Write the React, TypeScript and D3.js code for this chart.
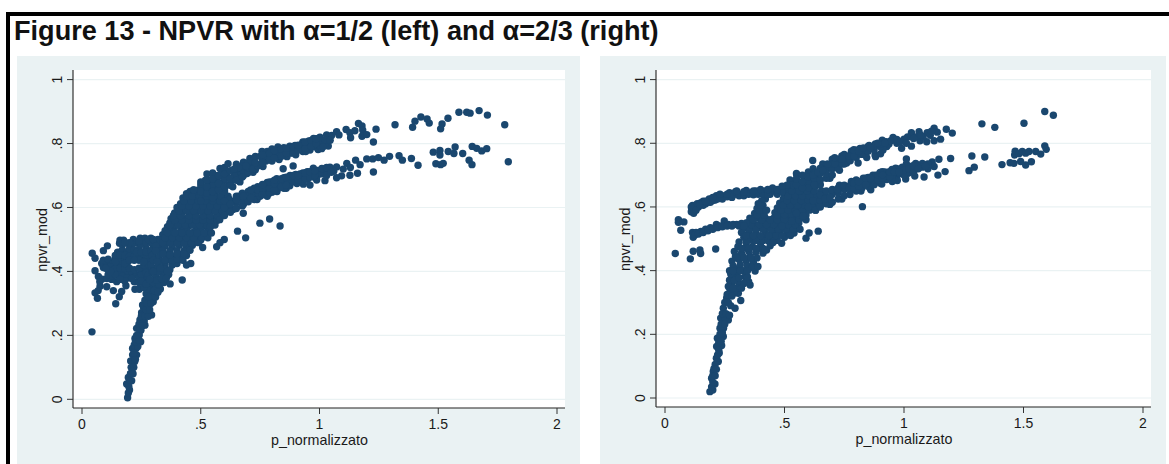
import * as d3 from "d3";

type Pt = [number, number];

const xTicks = [0, 0.5, 1, 1.5, 2];
const xTickLabels = ["0", ".5", "1", "1.5", "2"];
const yTicks = [0, 0.2, 0.4, 0.6, 0.8, 1];
const yTickLabels = ["0", ".2", ".4", ".6", ".8", "1"];
const titleText = "Figure 13 - NPVR with α=1/2 (left) and α=2/3 (right)";

// left chart, alpha = 1/2
const leftStreak: Pt[] = [
  [0.192, 0.005], [0.2, 0.029], [0.188, 0.048], [0.209, 0.058], [0.195, 0.068], [0.204, 0.08],
  [0.212, 0.097], [0.205, 0.12], [0.222, 0.118], [0.23, 0.139], [0.213, 0.139], [0.213, 0.159],
  [0.228, 0.16], [0.247, 0.18], [0.223, 0.19], [0.241, 0.201], [0.23, 0.222], [0.248, 0.216],
  [0.265, 0.232], [0.244, 0.248], [0.262, 0.245], [0.293, 0.264], [0.251, 0.271], [0.272, 0.268],
  [0.26, 0.285], [0.255, 0.295], [0.28, 0.29], [0.3, 0.305], [0.265, 0.31], [0.283, 0.312],
  [0.27, 0.33], [0.29, 0.332], [0.3, 0.322], [0.285, 0.35], [0.31, 0.35], [0.33, 0.345],
  [0.195, 0.02], [0.197, 0.04], [0.2, 0.06], [0.205, 0.08], [0.215, 0.08], [0.207, 0.1],
  [0.218, 0.1], [0.225, 0.125], [0.22, 0.145], [0.22, 0.17], [0.235, 0.165], [0.225, 0.18],
  [0.24, 0.185], [0.23, 0.2], [0.245, 0.22], [0.24, 0.235], [0.255, 0.23], [0.25, 0.26],
  [0.265, 0.26], [0.28, 0.26], [0.27, 0.28], [0.285, 0.28], [0.275, 0.3], [0.29, 0.3],
  [0.28, 0.32], [0.31, 0.32], [0.305, 0.34], [0.32, 0.335], [0.275, 0.345],
];

const leftCluster: Pt[] = [
  [0.142, 0.299], [0.065, 0.316], [0.055, 0.333], [0.157, 0.321], [0.132, 0.34], [0.167, 0.337],
  [0.185, 0.355], [0.146, 0.368], [0.104, 0.352], [0.076, 0.354], [0.068, 0.34], [0.223, 0.344],
  [0.241, 0.344], [0.055, 0.402], [0.069, 0.384], [0.043, 0.457], [0.055, 0.441], [0.107, 0.48],
  [0.09, 0.465], [0.083, 0.425], [0.16, 0.498], [0.175, 0.498], [0.158, 0.488], [0.216, 0.5],
  [0.245, 0.504], [0.265, 0.504], [0.29, 0.504], [0.32, 0.5], [0.19, 0.488], [0.23, 0.49],
  [0.15, 0.46], [0.17, 0.468], [0.19, 0.458], [0.21, 0.465], [0.24, 0.47], [0.27, 0.472],
  [0.3, 0.475], [0.33, 0.48], [0.1, 0.425], [0.12, 0.43], [0.14, 0.44], [0.16, 0.432],
  [0.18, 0.438], [0.255, 0.44], [0.28, 0.445], [0.11, 0.405], [0.13, 0.4], [0.15, 0.405],
  [0.17, 0.4], [0.19, 0.398], [0.21, 0.395], [0.23, 0.39], [0.25, 0.405], [0.27, 0.41],
  [0.085, 0.376], [0.105, 0.378], [0.125, 0.375], [0.2, 0.38], [0.22, 0.368], [0.26, 0.38],
  [0.17, 0.485], [0.21, 0.485], [0.25, 0.485], [0.27, 0.49], [0.29, 0.49], [0.31, 0.488],
  [0.2, 0.47], [0.22, 0.468], [0.28, 0.46], [0.14, 0.45], [0.16, 0.452], [0.18, 0.45],
  [0.2, 0.448], [0.22, 0.446], [0.24, 0.45], [0.26, 0.455], [0.3, 0.455], [0.09, 0.435],
  [0.11, 0.438], [0.13, 0.425], [0.15, 0.42], [0.17, 0.418], [0.19, 0.425], [0.27, 0.43],
  [0.29, 0.43], [0.09, 0.412], [0.11, 0.39], [0.13, 0.385], [0.15, 0.39], [0.17, 0.385],
  [0.19, 0.38], [0.21, 0.378], [0.24, 0.38], [0.28, 0.39], [0.25, 0.39], [0.27, 0.395],
  [0.075, 0.368], [0.18, 0.37],
  [0.12, 0.415], [0.14, 0.41], [0.16, 0.41], [0.18, 0.41], [0.2, 0.41], [0.22, 0.405],
  [0.24, 0.41], [0.26, 0.42], [0.28, 0.42], [0.3, 0.41], [0.14, 0.43], [0.18, 0.425],
  [0.2, 0.435], [0.24, 0.435], [0.26, 0.43], [0.22, 0.435], [0.31, 0.44], [0.23, 0.46],
  [0.25, 0.46], [0.27, 0.46], [0.29, 0.465], [0.31, 0.465], [0.33, 0.465], [0.2, 0.49],
  [0.24, 0.495], [0.28, 0.5], [0.3, 0.5], [0.18, 0.49], [0.14, 0.39], [0.12, 0.4],
  [0.1, 0.41], [0.16, 0.375], [0.24, 0.365], [0.26, 0.365], [0.28, 0.365], [0.26, 0.35],
  [0.25, 0.37],
];

const leftBlob: Pt[] = [
  [0.27, 0.36], [0.3, 0.365], [0.325, 0.36], [0.345, 0.365], [0.28, 0.39], [0.31, 0.385],
  [0.34, 0.392], [0.365, 0.39], [0.29, 0.42], [0.32, 0.415], [0.35, 0.422], [0.38, 0.42],
  [0.4, 0.425], [0.295, 0.45], [0.325, 0.445], [0.355, 0.452], [0.385, 0.448], [0.415, 0.452],
  [0.44, 0.45], [0.31, 0.48], [0.35, 0.48], [0.38, 0.476], [0.41, 0.482], [0.44, 0.478],
  [0.465, 0.482], [0.34, 0.515], [0.37, 0.51], [0.4, 0.508], [0.43, 0.513], [0.46, 0.508],
  [0.49, 0.512], [0.52, 0.515], [0.36, 0.54], [0.39, 0.54], [0.42, 0.535], [0.45, 0.542],
  [0.48, 0.538], [0.51, 0.542], [0.54, 0.54], [0.375, 0.565], [0.405, 0.57], [0.435, 0.565],
  [0.465, 0.572], [0.495, 0.566], [0.525, 0.57], [0.555, 0.565], [0.58, 0.57], [0.4, 0.6],
  [0.43, 0.595], [0.46, 0.6], [0.49, 0.595], [0.52, 0.602], [0.55, 0.598], [0.58, 0.602],
  [0.61, 0.6], [0.425, 0.63], [0.45, 0.628], [0.48, 0.632], [0.51, 0.628], [0.54, 0.632],
  [0.57, 0.628], [0.6, 0.632], [0.455, 0.65], [0.49, 0.655], [0.52, 0.66],
  [0.285, 0.375], [0.315, 0.372], [0.335, 0.378], [0.355, 0.378], [0.295, 0.4], [0.32, 0.4],
  [0.345, 0.408], [0.37, 0.405], [0.3, 0.435], [0.335, 0.432], [0.365, 0.436], [0.39, 0.435],
  [0.41, 0.438], [0.31, 0.465], [0.34, 0.465], [0.37, 0.465], [0.4, 0.465], [0.43, 0.465],
  [0.455, 0.466], [0.33, 0.498], [0.36, 0.495], [0.39, 0.494], [0.42, 0.497], [0.45, 0.494],
  [0.475, 0.497], [0.5, 0.498], [0.35, 0.527], [0.38, 0.525], [0.41, 0.522], [0.44, 0.527],
  [0.47, 0.523], [0.5, 0.527], [0.53, 0.528], [0.37, 0.552], [0.4, 0.553], [0.43, 0.55],
  [0.46, 0.555], [0.49, 0.552], [0.52, 0.555], [0.55, 0.552], [0.39, 0.583], [0.42, 0.582],
  [0.45, 0.585], [0.48, 0.582], [0.51, 0.585], [0.54, 0.582], [0.57, 0.585], [0.6, 0.585],
  [0.415, 0.612], [0.445, 0.612], [0.475, 0.615], [0.505, 0.612], [0.535, 0.615], [0.565, 0.612],
  [0.595, 0.615], [0.62, 0.615], [0.44, 0.643], [0.47, 0.643], [0.5, 0.643], [0.53, 0.645],
  [0.56, 0.645], [0.59, 0.645],
  [0.3, 0.4], [0.33, 0.41], [0.36, 0.4], [0.315, 0.43], [0.35, 0.435], [0.38, 0.435],
  [0.4, 0.44], [0.425, 0.435], [0.34, 0.455], [0.37, 0.452], [0.4, 0.455], [0.43, 0.455],
  [0.34, 0.49], [0.37, 0.49], [0.4, 0.49], [0.43, 0.49], [0.46, 0.49], [0.49, 0.49],
  [0.35, 0.505], [0.38, 0.505], [0.41, 0.505], [0.44, 0.505], [0.47, 0.505], [0.505, 0.505],
  [0.53, 0.505], [0.36, 0.52], [0.39, 0.52], [0.42, 0.52], [0.455, 0.52], [0.485, 0.52],
  [0.515, 0.52], [0.545, 0.52], [0.37, 0.545], [0.405, 0.545], [0.435, 0.545], [0.465, 0.545],
  [0.495, 0.545], [0.525, 0.545], [0.56, 0.545], [0.39, 0.56], [0.42, 0.56], [0.45, 0.56],
  [0.48, 0.56], [0.51, 0.56], [0.54, 0.56], [0.57, 0.56], [0.385, 0.575], [0.415, 0.575],
  [0.45, 0.575], [0.48, 0.575], [0.51, 0.575], [0.54, 0.575], [0.57, 0.575], [0.595, 0.575],
  [0.41, 0.59], [0.44, 0.59], [0.47, 0.59], [0.5, 0.59], [0.53, 0.59], [0.56, 0.59],
  [0.59, 0.59], [0.62, 0.59], [0.42, 0.605], [0.45, 0.605], [0.48, 0.605], [0.51, 0.605],
  [0.54, 0.605], [0.57, 0.605], [0.6, 0.605], [0.43, 0.62], [0.46, 0.62], [0.49, 0.62],
  [0.52, 0.62], [0.55, 0.62], [0.58, 0.62], [0.61, 0.62], [0.64, 0.62], [0.44, 0.635],
  [0.465, 0.635], [0.495, 0.635], [0.525, 0.635], [0.555, 0.635], [0.585, 0.635], [0.615, 0.635],
  [0.47, 0.655], [0.5, 0.655], [0.54, 0.655], [0.57, 0.655], [0.6, 0.655], [0.5, 0.67],
  [0.53, 0.67], [0.56, 0.67], [0.59, 0.67], [0.62, 0.67], [0.52, 0.685], [0.54, 0.685],
  [0.57, 0.685], [0.6, 0.685], [0.63, 0.685], [0.66, 0.685], [0.56, 0.7], [0.59, 0.7],
  [0.61, 0.7], [0.65, 0.7], [0.68, 0.7], [0.6, 0.71], [0.64, 0.71], [0.67, 0.71],
  [0.7, 0.71], [0.72, 0.71],
];

const leftUpperBand: Pt[] = [
  [0.47, 0.655], [0.5, 0.68], [0.526, 0.705], [0.55, 0.708], [0.581, 0.722], [0.6, 0.725],
  [0.615, 0.737], [0.65, 0.735], [0.68, 0.742], [0.707, 0.753], [0.73, 0.76], [0.758, 0.775],
  [0.78, 0.775], [0.8, 0.783], [0.825, 0.789], [0.85, 0.787], [0.875, 0.792], [0.897, 0.794],
  [0.93, 0.805], [0.955, 0.808], [0.975, 0.816], [0.994, 0.816], [0.5, 0.62], [0.55, 0.63],
  [0.6, 0.65], [0.635, 0.665], [0.665, 0.68], [0.695, 0.706], [0.73, 0.718], [0.762, 0.728],
  [0.8, 0.745], [0.83, 0.75], [0.863, 0.759], [0.9, 0.765], [0.93, 0.775], [0.96, 0.78],
  [0.994, 0.781], [0.5, 0.65], [0.55, 0.67], [0.6, 0.69], [0.64, 0.7], [0.68, 0.715],
  [0.72, 0.735], [0.76, 0.75], [0.8, 0.765], [0.84, 0.77], [0.88, 0.778], [0.92, 0.79],
  [0.96, 0.795], [1.0, 0.8], [0.918, 0.79], [0.942, 0.775], [0.981, 0.79],
  [1.009, 0.784], [1.037, 0.792], [1.002, 0.82], [1.03, 0.827], [1.051, 0.825], [1.072, 0.837],
  [1.082, 0.827], [1.112, 0.844], [1.128, 0.834], [1.131, 0.818], [1.149, 0.84], [1.164, 0.863],
  [1.179, 0.855], [1.182, 0.842], [1.179, 0.823], [1.199, 0.828], [1.227, 0.805], [1.238, 0.845],
  [1.318, 0.859], [1.392, 0.851], [1.402, 0.87], [1.427, 0.883], [1.453, 0.877], [1.462, 0.864],
  [1.51, 0.846], [1.516, 0.861], [1.541, 0.879], [1.587, 0.898], [1.62, 0.898], [1.634, 0.895],
  [1.672, 0.903], [1.707, 0.889], [1.78, 0.859],
  [0.525, 0.645], [0.525, 0.665], [0.525, 0.685], [0.55, 0.65], [0.55, 0.69], [0.575, 0.655],
  [0.575, 0.675], [0.575, 0.7], [0.6, 0.665], [0.6, 0.705], [0.625, 0.67], [0.625, 0.69],
  [0.625, 0.715], [0.65, 0.685], [0.65, 0.72], [0.675, 0.695], [0.675, 0.73], [0.7, 0.71],
  [0.7, 0.725], [0.7, 0.74], [0.725, 0.725], [0.725, 0.75], [0.75, 0.735], [0.75, 0.76],
  [0.775, 0.745], [0.775, 0.76], [0.8, 0.755], [0.8, 0.772], [0.825, 0.76], [0.825, 0.775],
  [0.85, 0.765], [0.85, 0.777], [0.875, 0.77], [0.875, 0.785], [0.9, 0.775], [0.9, 0.785],
  [0.925, 0.785], [0.925, 0.797], [0.95, 0.79], [0.95, 0.8], [0.975, 0.795], [0.975, 0.805],
  [1.0, 0.795], [1.0, 0.81], [1.025, 0.8], [1.025, 0.812], [1.015, 0.79], [1.045, 0.81],
  [0.72, 0.72], [0.74, 0.73], [0.76, 0.74], [0.76, 0.765], [0.79, 0.75], [0.79, 0.77],
  [0.81, 0.755], [0.81, 0.778], [0.84, 0.76], [0.84, 0.782], [0.86, 0.77], [0.86, 0.785],
  [0.89, 0.77], [0.89, 0.79], [0.91, 0.78], [0.91, 0.795], [0.94, 0.785], [0.94, 0.805],
  [0.965, 0.79], [0.965, 0.81], [0.985, 0.8], [0.985, 0.815], [0.71, 0.745], [0.69, 0.73],
  [0.66, 0.725], [0.64, 0.72], [0.73, 0.74],
];

const leftLowerBand: Pt[] = [
  [0.74, 0.665], [0.78, 0.678], [0.82, 0.69], [0.876, 0.7], [0.93, 0.708], [0.99, 0.716],
  [0.7, 0.65], [0.66, 0.635], [0.62, 0.625], [0.54, 0.54], [0.58, 0.562], [0.636, 0.594],
  [0.68, 0.61], [0.737, 0.625], [0.78, 0.635], [0.821, 0.65], [0.86, 0.66], [0.905, 0.675],
  [0.95, 0.688], [0.994, 0.703], [0.6, 0.6], [0.65, 0.615], [0.7, 0.635], [0.75, 0.65],
  [0.8, 0.665], [0.85, 0.68], [0.9, 0.69], [0.95, 0.7], [0.918, 0.705], [0.946, 0.71],
  [0.974, 0.723], [1.016, 0.72], [1.044, 0.726], [1.072, 0.727], [1.115, 0.738], [1.152, 0.748],
  [1.171, 0.734], [1.199, 0.752], [1.224, 0.752], [1.248, 0.756], [1.272, 0.748], [1.295, 0.76],
  [1.335, 0.762], [1.349, 0.748], [1.387, 0.753], [1.415, 0.732], [1.479, 0.773], [1.507, 0.778],
  [1.507, 0.764], [1.49, 0.737], [1.51, 0.734], [1.521, 0.738], [1.542, 0.775], [1.566, 0.769],
  [1.571, 0.789], [1.603, 0.769], [1.63, 0.748], [1.642, 0.734], [1.643, 0.791], [1.662, 0.785],
  [1.683, 0.777], [1.704, 0.784], [1.795, 0.743], [0.932, 0.673], [0.96, 0.67], [0.988, 0.686],
  [1.023, 0.684], [1.072, 0.693], [1.093, 0.699], [1.128, 0.701], [1.16, 0.707], [1.227, 0.711],
  [0.6, 0.575], [0.6, 0.62], [0.625, 0.585], [0.625, 0.61], [0.65, 0.597], [0.65, 0.635],
  [0.675, 0.605], [0.675, 0.625], [0.675, 0.645], [0.7, 0.618], [0.725, 0.625], [0.725, 0.645],
  [0.725, 0.66], [0.75, 0.635], [0.775, 0.65], [0.775, 0.665], [0.8, 0.648], [0.8, 0.68],
  [0.825, 0.66], [0.825, 0.675], [0.85, 0.66], [0.85, 0.693], [0.875, 0.668], [0.875, 0.685],
  [0.9, 0.703], [0.925, 0.682], [0.925, 0.695], [0.95, 0.712], [0.975, 0.695], [0.975, 0.708],
  [1.0, 0.712], [1.025, 0.71], [1.06, 0.713], [1.1, 0.72], [1.13, 0.725],
  [0.65, 0.625], [0.68, 0.635], [0.71, 0.63], [0.71, 0.655], [0.74, 0.645], [0.74, 0.655],
  [0.76, 0.64], [0.76, 0.66], [0.76, 0.672], [0.79, 0.645], [0.79, 0.66], [0.79, 0.68],
  [0.81, 0.655], [0.81, 0.675], [0.81, 0.685], [0.84, 0.665], [0.84, 0.69], [0.86, 0.67],
  [0.86, 0.695], [0.89, 0.68], [0.89, 0.7], [0.91, 0.685], [0.91, 0.7], [0.94, 0.69],
  [0.94, 0.708], [0.96, 0.695], [0.96, 0.712], [0.98, 0.7], [0.98, 0.715], [1.01, 0.705],
  [1.01, 0.722], [1.03, 0.7], [1.03, 0.725], [1.05, 0.71],
];

const leftOutliers: Pt[] = [
  [0.042, 0.211], [0.749, 0.551], [0.79, 0.564], [0.834, 0.542], [0.655, 0.526], [0.689, 0.505],
  [0.599, 0.5], [0.581, 0.49], [0.567, 0.477], [0.508, 0.475], [0.422, 0.373], [0.371, 0.361],
  [0.458, 0.425], [0.44, 0.42], [0.679, 0.582], [0.847, 0.721], [0.889, 0.73],
];

// right chart, alpha = 2/3
const rightStreak: Pt[] = [
  [0.188, 0.02], [0.2, 0.025], [0.209, 0.044], [0.195, 0.062], [0.202, 0.083], [0.21, 0.105],
  [0.223, 0.115], [0.227, 0.141], [0.216, 0.162], [0.237, 0.165], [0.219, 0.188], [0.244, 0.193],
  [0.23, 0.219], [0.245, 0.219], [0.233, 0.251], [0.265, 0.245], [0.25, 0.25], [0.244, 0.282],
  [0.293, 0.282], [0.275, 0.29], [0.258, 0.314], [0.317, 0.306], [0.307, 0.329], [0.272, 0.34],
  [0.29, 0.33], [0.356, 0.355], [0.28, 0.36], [0.31, 0.36], [0.3, 0.387], [0.335, 0.381],
  [0.278, 0.385], [0.377, 0.399], [0.35, 0.365],
  [0.195, 0.035], [0.2, 0.05], [0.2, 0.07], [0.21, 0.07], [0.205, 0.092], [0.215, 0.09],
  [0.215, 0.125], [0.22, 0.135], [0.225, 0.15], [0.225, 0.175], [0.235, 0.178], [0.23, 0.2],
  [0.24, 0.205], [0.235, 0.232], [0.25, 0.232], [0.24, 0.265], [0.255, 0.265], [0.27, 0.26],
  [0.25, 0.3], [0.265, 0.3], [0.26, 0.325], [0.28, 0.32], [0.3, 0.345], [0.265, 0.35],
  [0.285, 0.345], [0.32, 0.345], [0.33, 0.36], [0.27, 0.37], [0.29, 0.37], [0.31, 0.378],
  [0.345, 0.38], [0.275, 0.39],
];

const rightBlob: Pt[] = [
  [0.27, 0.4], [0.3, 0.405], [0.33, 0.4], [0.28, 0.43], [0.31, 0.435], [0.34, 0.43],
  [0.37, 0.425], [0.29, 0.46], [0.32, 0.455], [0.35, 0.462], [0.38, 0.458], [0.41, 0.455],
  [0.31, 0.49], [0.34, 0.488], [0.37, 0.492], [0.4, 0.485], [0.44, 0.478], [0.488, 0.486],
  [0.32, 0.52], [0.35, 0.518], [0.38, 0.522], [0.42, 0.515], [0.45, 0.52], [0.48, 0.516],
  [0.51, 0.522], [0.54, 0.518], [0.345, 0.55], [0.37, 0.548], [0.41, 0.552], [0.44, 0.548],
  [0.47, 0.552], [0.5, 0.548], [0.53, 0.552], [0.56, 0.55], [0.375, 0.58], [0.4, 0.578],
  [0.46, 0.582], [0.49, 0.578], [0.52, 0.582], [0.55, 0.578], [0.58, 0.582], [0.39, 0.61],
  [0.41, 0.605], [0.48, 0.612], [0.51, 0.608], [0.54, 0.612], [0.57, 0.608], [0.6, 0.612],
  [0.63, 0.608], [0.5, 0.64], [0.53, 0.638], [0.56, 0.642], [0.59, 0.638], [0.62, 0.642],
  [0.65, 0.638], [0.42, 0.625],
  [0.285, 0.415], [0.315, 0.418], [0.345, 0.415], [0.365, 0.41], [0.295, 0.445], [0.325, 0.445],
  [0.355, 0.445], [0.385, 0.44], [0.305, 0.475], [0.335, 0.472], [0.365, 0.475], [0.395, 0.47],
  [0.425, 0.465], [0.47, 0.495], [0.33, 0.505], [0.36, 0.505], [0.39, 0.505], [0.42, 0.5],
  [0.45, 0.503], [0.5, 0.505], [0.335, 0.535], [0.365, 0.535], [0.395, 0.535], [0.43, 0.533],
  [0.46, 0.536], [0.49, 0.533], [0.52, 0.536], [0.55, 0.533], [0.355, 0.565], [0.39, 0.565],
  [0.42, 0.565], [0.455, 0.565], [0.485, 0.565], [0.515, 0.566], [0.545, 0.565], [0.575, 0.566],
  [0.385, 0.595], [0.41, 0.59], [0.47, 0.597], [0.5, 0.594], [0.53, 0.597], [0.56, 0.594],
  [0.59, 0.597], [0.62, 0.594], [0.405, 0.62], [0.495, 0.625], [0.525, 0.625], [0.555, 0.627],
  [0.585, 0.625], [0.615, 0.627], [0.645, 0.625], [0.52, 0.652], [0.55, 0.655], [0.58, 0.652],
  [0.61, 0.652],
  [0.285, 0.4], [0.315, 0.4], [0.345, 0.4], [0.3, 0.44], [0.33, 0.44], [0.36, 0.44],
  [0.32, 0.47], [0.35, 0.47], [0.38, 0.47], [0.41, 0.47], [0.345, 0.495], [0.38, 0.495],
  [0.41, 0.495], [0.43, 0.495], [0.34, 0.51], [0.37, 0.51], [0.4, 0.51], [0.435, 0.51],
  [0.465, 0.51], [0.49, 0.51], [0.525, 0.51], [0.35, 0.53], [0.38, 0.53], [0.41, 0.53],
  [0.445, 0.53], [0.475, 0.53], [0.505, 0.53], [0.535, 0.53], [0.565, 0.53], [0.36, 0.545],
  [0.395, 0.545], [0.425, 0.545], [0.455, 0.545], [0.485, 0.545], [0.515, 0.545], [0.545, 0.545],
  [0.37, 0.56], [0.405, 0.56], [0.44, 0.56], [0.47, 0.56], [0.5, 0.56], [0.53, 0.56],
  [0.56, 0.56], [0.59, 0.56], [0.385, 0.575], [0.415, 0.575], [0.47, 0.575], [0.5, 0.575],
  [0.53, 0.575], [0.56, 0.575], [0.59, 0.575], [0.395, 0.59], [0.425, 0.59], [0.485, 0.59],
  [0.515, 0.59], [0.545, 0.59], [0.575, 0.59], [0.605, 0.59], [0.63, 0.59], [0.4, 0.605],
  [0.495, 0.605], [0.525, 0.605], [0.555, 0.605], [0.585, 0.605], [0.615, 0.605], [0.645, 0.605],
  [0.51, 0.62], [0.54, 0.62], [0.57, 0.62], [0.6, 0.62], [0.63, 0.62], [0.66, 0.62],
  [0.515, 0.635], [0.545, 0.635], [0.575, 0.635], [0.605, 0.635], [0.635, 0.635], [0.665, 0.635],
  [0.53, 0.65], [0.565, 0.65], [0.595, 0.65], [0.625, 0.65], [0.655, 0.65], [0.54, 0.665],
  [0.57, 0.665], [0.6, 0.665], [0.63, 0.665], [0.55, 0.68], [0.58, 0.68], [0.61, 0.68],
  [0.64, 0.68],
];

const rightFlatBands: Pt[] = [
  [0.11, 0.585], [0.115, 0.605], [0.125, 0.595], [0.14, 0.6], [0.15, 0.613], [0.17, 0.61],
  [0.185, 0.625], [0.2, 0.62], [0.215, 0.635], [0.23, 0.63], [0.25, 0.635], [0.27, 0.645],
  [0.285, 0.64], [0.3, 0.64], [0.32, 0.64], [0.34, 0.652], [0.36, 0.645], [0.38, 0.65],
  [0.4, 0.65], [0.42, 0.65], [0.44, 0.652], [0.46, 0.65], [0.48, 0.655], [0.5, 0.66],
  [0.523, 0.685], [0.535, 0.67], [0.551, 0.7], [0.44, 0.64], [0.47, 0.64], [0.118, 0.505],
  [0.115, 0.52], [0.13, 0.52], [0.15, 0.523], [0.17, 0.53], [0.19, 0.535], [0.215, 0.545],
  [0.23, 0.54], [0.248, 0.556], [0.265, 0.545], [0.285, 0.545], [0.3, 0.545], [0.32, 0.548],
  [0.34, 0.55],
  [0.112, 0.595], [0.125, 0.605], [0.135, 0.61], [0.16, 0.605], [0.16, 0.618], [0.18, 0.615],
  [0.19, 0.615], [0.21, 0.622], [0.22, 0.625], [0.24, 0.625], [0.26, 0.632], [0.28, 0.63],
  [0.295, 0.648], [0.31, 0.635], [0.33, 0.635], [0.35, 0.64], [0.37, 0.638], [0.39, 0.64],
  [0.41, 0.64], [0.43, 0.64], [0.45, 0.66], [0.49, 0.648], [0.51, 0.668], [0.125, 0.512],
  [0.14, 0.515], [0.16, 0.52], [0.18, 0.525], [0.2, 0.53], [0.22, 0.535], [0.24, 0.538],
  [0.26, 0.54], [0.28, 0.54], [0.31, 0.54], [0.33, 0.54],
  [0.11, 0.6], [0.12, 0.58], [0.13, 0.59], [0.145, 0.608], [0.17, 0.618], [0.2, 0.63],
  [0.23, 0.64], [0.26, 0.64], [0.3, 0.65], [0.33, 0.648], [0.37, 0.65], [0.4, 0.655],
  [0.43, 0.655], [0.47, 0.655], [0.49, 0.665],
];

const rightUpperBand: Pt[] = [
  [0.55, 0.705], [0.6, 0.71], [0.62, 0.72], [0.66, 0.735], [0.7, 0.75], [0.74, 0.76],
  [0.78, 0.775], [0.816, 0.784], [0.85, 0.79], [0.88, 0.798], [0.913, 0.805], [0.6, 0.68],
  [0.64, 0.695], [0.68, 0.72], [0.72, 0.735], [0.76, 0.75], [0.8, 0.765], [0.84, 0.772],
  [0.56, 0.65], [0.6, 0.66], [0.65, 0.67], [0.69, 0.69], [0.73, 0.715], [0.76, 0.738],
  [0.816, 0.766], [0.844, 0.755], [0.879, 0.763], [0.808, 0.738], [0.928, 0.79], [0.881, 0.795],
  [0.854, 0.793], [0.881, 0.758], [0.902, 0.767], [0.909, 0.81], [0.912, 0.779], [0.937, 0.798],
  [0.954, 0.818], [0.99, 0.784], [1.0, 0.813], [1.031, 0.833], [1.031, 0.791], [1.063, 0.836],
  [1.067, 0.808], [1.095, 0.805], [1.097, 0.833], [1.126, 0.808], [1.126, 0.847], [1.139, 0.835],
  [1.153, 0.813], [1.177, 0.844], [1.202, 0.832], [1.326, 0.861], [1.38, 0.85], [1.502, 0.863],
  [1.589, 0.9], [1.625, 0.888], [0.618, 0.746], [0.97, 0.8], [1.015, 0.82], [1.05, 0.82],
  [1.08, 0.82], [1.11, 0.825],
  [0.55, 0.67], [0.55, 0.688], [0.575, 0.66], [0.575, 0.68], [0.575, 0.7], [0.6, 0.695],
  [0.625, 0.67], [0.625, 0.69], [0.625, 0.706], [0.65, 0.685], [0.65, 0.705], [0.65, 0.722],
  [0.675, 0.69], [0.675, 0.705], [0.7, 0.7], [0.7, 0.72], [0.7, 0.735], [0.725, 0.72],
  [0.725, 0.75], [0.75, 0.735], [0.75, 0.765], [0.775, 0.745], [0.775, 0.762], [0.8, 0.755],
  [0.8, 0.778], [0.825, 0.765], [0.825, 0.778], [0.85, 0.775], [0.875, 0.78], [0.875, 0.79],
  [0.9, 0.79], [0.9, 0.798], [0.925, 0.805], [0.945, 0.808], [0.97, 0.812], [0.985, 0.805],
  [1.01, 0.8], [1.04, 0.815], [1.07, 0.825], [1.115, 0.838],
  [0.62, 0.7], [0.64, 0.71], [0.66, 0.715], [0.68, 0.735], [0.71, 0.735], [0.71, 0.755],
  [0.74, 0.735], [0.74, 0.75], [0.77, 0.76], [0.79, 0.76], [0.79, 0.78], [0.81, 0.775],
  [0.83, 0.785], [0.86, 0.785], [0.89, 0.8], [0.92, 0.8],
];

const rightLowerBand: Pt[] = [
  [0.73, 0.668], [0.78, 0.68], [0.83, 0.69], [0.87, 0.7], [0.92, 0.71], [0.97, 0.72],
  [1.01, 0.735], [0.55, 0.58], [0.6, 0.6], [0.65, 0.62], [0.7, 0.64], [0.75, 0.655],
  [0.8, 0.67], [0.85, 0.68], [0.9, 0.695], [0.95, 0.705], [0.49, 0.54], [0.53, 0.555],
  [0.577, 0.571], [0.63, 0.59], [0.69, 0.608], [0.74, 0.625], [0.774, 0.639], [0.82, 0.65],
  [0.858, 0.659], [0.9, 0.675], [0.928, 0.686], [0.97, 0.695], [1.017, 0.706], [0.861, 0.654],
  [0.861, 0.668], [0.882, 0.7], [0.907, 0.672], [0.951, 0.68], [0.972, 0.683], [1.007, 0.688],
  [1.045, 0.697], [1.084, 0.694], [1.142, 0.7], [1.172, 0.711], [0.909, 0.711], [0.936, 0.7],
  [0.937, 0.71], [0.965, 0.722], [0.979, 0.705], [0.993, 0.725], [1.01, 0.751], [1.028, 0.727],
  [1.049, 0.737], [1.077, 0.737], [1.077, 0.725], [1.118, 0.741], [1.126, 0.727], [1.146, 0.75],
  [1.195, 0.752], [1.272, 0.714], [1.284, 0.76], [1.294, 0.725], [1.338, 0.757], [1.41, 0.733],
  [1.444, 0.739], [1.46, 0.737], [1.463, 0.763], [1.465, 0.775], [1.481, 0.767], [1.488, 0.743],
  [1.495, 0.774], [1.509, 0.769], [1.509, 0.732], [1.523, 0.774], [1.533, 0.742], [1.551, 0.774],
  [1.572, 0.766], [1.589, 0.792], [1.595, 0.781],
  [0.65, 0.6], [0.65, 0.638], [0.675, 0.61], [0.675, 0.63], [0.675, 0.65], [0.7, 0.615],
  [0.7, 0.655], [0.725, 0.625], [0.725, 0.645], [0.725, 0.66], [0.75, 0.635], [0.75, 0.668],
  [0.775, 0.655], [0.775, 0.668], [0.8, 0.65], [0.8, 0.685], [0.825, 0.66], [0.825, 0.675],
  [0.85, 0.665], [0.85, 0.693], [0.875, 0.67], [0.875, 0.685], [0.9, 0.708], [0.925, 0.697],
  [0.95, 0.692], [0.95, 0.718], [0.975, 0.708], [1.0, 0.7], [1.0, 0.715], [1.025, 0.71],
  [1.05, 0.72], [1.1, 0.735], [1.1, 0.72],
  [0.62, 0.62], [0.67, 0.625], [0.69, 0.63], [0.72, 0.655], [0.77, 0.66], [0.79, 0.66],
  [0.79, 0.675], [0.81, 0.665], [0.81, 0.68], [0.84, 0.67], [0.84, 0.69], [0.86, 0.69],
  [0.89, 0.685], [0.89, 0.7], [0.91, 0.69], [0.91, 0.7], [0.94, 0.695], [0.94, 0.71],
  [0.96, 0.71], [0.98, 0.71], [1.02, 0.72], [1.04, 0.71], [1.04, 0.73], [1.06, 0.72],
  [1.09, 0.728],
];

const rightOutliers: Pt[] = [
  [0.043, 0.454], [0.106, 0.437], [0.118, 0.461], [0.146, 0.465], [0.149, 0.454], [0.212, 0.468],
  [0.056, 0.56], [0.079, 0.553], [0.066, 0.527], [0.056, 0.552], [0.59, 0.502], [0.603, 0.518],
  [0.641, 0.524], [0.826, 0.601], [0.389, 0.413], [0.418, 0.465], [0.452, 0.488],
];

const leftPoints = [...leftStreak, ...leftCluster, ...leftBlob, ...leftUpperBand, ...leftLowerBand, ...leftOutliers];
const rightPoints = [...rightStreak, ...rightBlob, ...rightFlatBands, ...rightUpperBand, ...rightLowerBand, ...rightOutliers];

const NAVY = "#1a476f";
const PANEL = "#eaf2f3";
const FONT = "'Liberation Sans', Arial, sans-serif";

function Panel({
  points,
  left,
  right,
  plotLeft,
  plotRight,
  plotBottom,
  x0,
  x2,
  y0,
}: {
  points: Pt[];
  left: number;
  right: number;
  plotLeft: number;
  plotRight: number;
  plotBottom: number;
  x0: number;
  x2: number;
  y0: number;
}) {
  const x = d3.scaleLinear().domain([0, 2]).range([x0, x2]);
  const y = d3.scaleLinear().domain([0, 1]).range([y0, 79.6]);
  const top = 56;
  const plotTop = 70;

  return (
    <g fontFamily={FONT} fill="#1a1a1a">
      <rect x={left} y={top} width={right - left} height={464 - top} fill={PANEL} />
      <rect x={plotLeft} y={plotTop} width={plotRight - plotLeft} height={plotBottom - plotTop} fill="#fff" />
      {/* grid */}
      {yTicks.map((t) => (
        <line key={t} x1={plotLeft} x2={plotRight} y1={y(t)} y2={y(t)} stroke={PANEL} strokeWidth={1.2} />
      ))}
      {/* points */}
      {points.map((p, i) => (
        <circle key={i} cx={x(p[0])} cy={y(p[1])} r={3.7} fill={NAVY} />
      ))}
      {/* y axis */}
      <line x1={plotLeft} x2={plotLeft} y1={plotTop} y2={plotBottom} stroke="#333" strokeWidth={1.2} />
      {yTicks.map((t, i) => (
        <g key={t}>
          <line x1={plotLeft - 6} x2={plotLeft} y1={y(t)} y2={y(t)} stroke="#333" strokeWidth={1} />
          <text
            transform={`translate(${plotLeft - 11},${y(t)}) rotate(-90)`}
            textAnchor="middle"
            fontSize={14}
          >
            {yTickLabels[i]}
          </text>
        </g>
      ))}
      <text
        transform={`translate(${plotLeft - 26},${(y(0) + y(1)) / 2 + 0.5}) rotate(-90)`}
        textAnchor="middle"
        fontSize={14.3}
      >
        npvr_mod
      </text>
      {/* x axis */}
      <line x1={plotLeft} x2={plotRight} y1={plotBottom} y2={plotBottom} stroke="#222" strokeWidth={1.2} />
      {xTicks.map((t, i) => (
        <g key={t}>
          <line x1={x(t)} x2={x(t)} y1={plotBottom} y2={plotBottom + 6} stroke="#333" strokeWidth={1} />
          <text x={x(t)} y={plotBottom + 21} textAnchor="middle" fontSize={14}>
            {xTickLabels[i]}
          </text>
        </g>
      ))}
      <text x={x(1)} y={plotBottom + 37} textAnchor="middle" fontSize={14.3}>
        p_normalizzato
      </text>
    </g>
  );
}

export default function App() {
  return (
    <div style={{ position: "absolute", left: 0, top: 0 }}>
      <svg width={1169} height={464} style={{ display: "block" }}>
        <rect width={1169} height={464} fill="#fff" />
        <rect x={6} y={12} width={1163} height={4} fill="#000" />
        <rect x={6} y={12} width={4} height={452} fill="#000" />
        <text x={14} y={40} fontFamily={FONT} fontWeight="bold" fontSize={27.1} fill="#111">
          {titleText}
        </text>
        <Panel
          points={leftPoints}
          left={17}
          right={580}
          plotLeft={73}
          plotRight={565}
          plotBottom={408}
          x0={82}
          x2={557}
          y0={399.3}
        />
        <Panel
          points={rightPoints}
          left={600}
          right={1166}
          plotLeft={656}
          plotRight={1151}
          plotBottom={407}
          x0={665}
          x2={1143}
          y0={398}
        />
      </svg>
    </div>
  );
}
